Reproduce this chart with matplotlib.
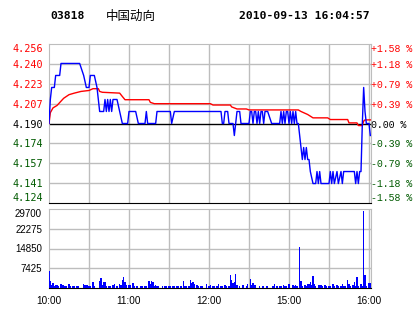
import matplotlib.pyplot as plt

# 03818 intraday, 2010-09-13 (minutes from 10:00, lunch break removed)
prev_close = 4.19

price_t = [0, 1, 2, 4, 5, 8, 9, 23, 26, 28, 30, 31, 34, 36, 38, 41, 42, 43, 44, 45,
           46, 47, 48, 51, 53, 55, 59, 60, 65, 67, 72, 73, 74, 80, 81, 91, 92, 94, 129, 130,
           131, 132, 134, 135, 138, 139, 140, 141, 143, 144, 150, 151, 152, 153, 154, 155, 156, 157, 158, 159,
           160, 161, 162, 164, 167, 173, 174, 175, 176, 177, 178, 179, 180, 181, 182, 183, 184, 185, 186, 187,
           189, 190, 191, 192, 193, 194, 195, 196, 198, 200, 201, 202, 203, 204, 210, 211, 212, 213, 214, 216,
           217, 219, 220, 221, 222, 229, 230, 231, 232, 233, 234, 235, 236, 237, 238, 240, 241]
price_v = [4.19, 4.21, 4.22, 4.22, 4.23, 4.23, 4.24, 4.24, 4.23, 4.22, 4.22, 4.23, 4.23, 4.22, 4.20, 4.20, 4.21, 4.20, 4.21, 4.20,
           4.21, 4.20, 4.21, 4.21, 4.20, 4.19, 4.19, 4.20, 4.20, 4.19, 4.19, 4.20, 4.19, 4.19, 4.20, 4.20, 4.19, 4.20, 4.20, 4.19,
           4.19, 4.20, 4.20, 4.19, 4.19, 4.18, 4.19, 4.20, 4.20, 4.19, 4.19, 4.20, 4.20, 4.19, 4.20, 4.20, 4.19, 4.20, 4.19, 4.20,
           4.20, 4.19, 4.20, 4.20, 4.19, 4.19, 4.20, 4.19, 4.20, 4.19, 4.20, 4.20, 4.19, 4.20, 4.19, 4.20, 4.19, 4.20, 4.19, 4.19,
           4.17, 4.16, 4.17, 4.16, 4.17, 4.16, 4.16, 4.15, 4.14, 4.14, 4.15, 4.14, 4.15, 4.14, 4.14, 4.15, 4.14, 4.15, 4.14, 4.15,
           4.14, 4.15, 4.14, 4.15, 4.15, 4.15, 4.14, 4.15, 4.14, 4.15, 4.15, 4.19, 4.22, 4.20, 4.19, 4.19, 4.18]

avg_t = [0, 1, 3, 6, 11, 15, 19, 24, 30, 33, 37, 38, 40, 53, 55, 57, 75, 76, 79, 121,
         123, 136, 137, 141, 148, 150, 187, 189, 192, 194, 198, 209, 211, 224, 225, 231, 232, 235, 236, 237, 241]
avg_v = [4.190, 4.199, 4.203, 4.205, 4.211, 4.214, 4.2153, 4.2167, 4.2175, 4.219, 4.219, 4.2167, 4.216, 4.2153, 4.2125,
         4.2098, 4.2098, 4.2076, 4.2065, 4.2065, 4.2054, 4.2054, 4.2038, 4.2021, 4.2021, 4.2013, 4.2013, 4.200, 4.1985,
         4.1975, 4.1947, 4.1947, 4.1933, 4.1933, 4.1905, 4.1905, 4.1883, 4.1883, 4.192, 4.193, 4.193]

vol_t = [0, 1, 2, 3, 4, 5, 6, 7, 9, 10, 11, 12, 13, 15, 16, 18, 19, 21, 22, 26,
         27, 28, 29, 30, 31, 33, 34, 38, 39, 40, 41, 42, 43, 45, 46, 48, 49, 51, 53, 54,
         55, 56, 57, 58, 60, 61, 63, 64, 66, 69, 70, 72, 73, 75, 76, 77, 78, 79, 80, 81,
         82, 85, 87, 88, 90, 91, 93, 94, 96, 97, 99, 101, 102, 103, 105, 106, 107, 108, 109, 111,
         112, 114, 115, 118, 120, 121, 123, 124, 126, 127, 129, 130, 132, 133, 135, 136, 137, 138, 139, 140,
         141, 143, 145, 146, 148, 149, 151, 152, 153, 154, 155, 158, 160, 161, 163, 164, 168, 169, 171, 173,
         174, 176, 177, 178, 180, 183, 184, 185, 186, 188, 189, 190, 192, 193, 194, 195, 196, 197, 198, 199,
         200, 202, 203, 204, 205, 207, 208, 210, 211, 213, 214, 216, 217, 219, 220, 221, 222, 224, 225, 226,
         228, 229, 230, 231, 232, 234, 235, 236, 237, 238, 240, 241]
vol_v = [6500, 2750, 1250, 2000, 625, 1000, 1250, 750, 1500, 1000, 1250, 750, 875, 1500, 875, 875, 875, 875, 875, 1500,
         1250, 1000, 1250, 750, 875, 2250, 875, 2750, 3875, 1250, 2250, 2250, 875, 875, 875, 1250, 1500, 750, 1500, 1250,
         3000, 4250, 2250, 1250, 1250, 1250, 1875, 875, 875, 875, 875, 875, 875, 2750, 1500, 2500, 2250, 750, 1250, 875,
         875, 875, 875, 875, 875, 875, 875, 875, 875, 875, 875, 2750, 875, 875, 875, 3125, 1875, 2125, 1500, 1250,
         875, 875, 875, 1500, 875, 1250, 875, 875, 875, 1500, 875, 875, 1250, 875, 875, 5000, 3125, 1750, 2125, 5375,
         1250, 875, 1250, 1250, 875, 1500, 3500, 1250, 2000, 1250, 1250, 875, 875, 875, 875, 875, 875, 1625, 875, 875,
         875, 1250, 875, 875, 1625, 1250, 875, 1250, 875, 15600, 2750, 875, 1250, 875, 1625, 1500, 2375, 1250, 4625, 1500,
         875, 1250, 1250, 1250, 875, 1250, 875, 875, 875, 1625, 875, 1250, 875, 875, 1625, 875, 875, 3125, 1500, 875,
         1250, 2250, 875, 4250, 875, 1500, 875, 29100, 4750, 875, 1750, 1750]

price_labels = ['4.256', '4.240', '4.223', '4.207', '4.190', '4.174', '4.157', '4.141', '4.124']
pct_labels = ['+1.58 %', '+1.18 %', '+0.79 %', '+0.39 %', '0.00 %', '-0.39 %', '-0.79 %', '-1.18 %', '-1.58 %']
time_ticks = [0, 60, 120, 180, 240]
time_labels = ['10:00', '11:00', '12:00', '15:00', '16:00']
vol_ticks = [7425, 14850, 22275, 29700]

RED = '#ff0000'
GREEN = '#005a00'
BLUE = '#0000ff'
GRID = '#bdbdbd'

steps = [4, 3, 2, 1, 0, -1, -2, -3, -4]
price_ticks = [prev_close * (1 + k * 0.00395) for k in steps]
label_cols = [RED if k > 0 else ('black' if k == 0 else GREEN) for k in steps]

fig = plt.figure(figsize=(4.14, 3.14), dpi=100)

# price panel
ax = fig.add_axes([49 / 414, 1 - 203 / 314, 322 / 414, 159 / 314])
ax.set_xlim(0, 241.5)
ax.set_ylim(price_ticks[-1], price_ticks[0])
for x in range(30, 241, 30):
    ax.axvline(x, color=GRID, lw=1, zorder=1)
for y in price_ticks[1:-1]:
    if abs(y - prev_close) > 1e-6:
        ax.axhline(y, color=GRID, lw=1, zorder=1)
ax.axhline(prev_close, color='black', lw=1, zorder=2)
ax.plot(avg_t, avg_v, color=RED, lw=1, zorder=3)
ax.plot(price_t, price_v, color=BLUE, lw=1, zorder=4)

for s in ['left', 'top', 'right']:
    ax.spines[s].set_color(GRID)
ax.spines['bottom'].set_color('black')
ax.set_xticks([])
ax.set_yticks(price_ticks)
ax.set_yticklabels(price_labels, family='DejaVu Sans Mono', fontsize=7.3)
ax.tick_params(axis='y', length=0, pad=4)
for lab, c in zip(ax.get_yticklabels(), label_cols):
    lab.set_color(c)

ax2 = ax.twinx()
ax2.set_ylim(ax.get_ylim())
ax2.set_yticks(price_ticks)
ax2.set_yticklabels(pct_labels, family='Liberation Mono', fontsize=7.1)
ax2.tick_params(axis='y', length=0, pad=0)
for lab, c in zip(ax2.get_yticklabels(), label_cols):
    lab.set_color(c)
for s in ax2.spines.values():
    s.set_visible(False)

# keep the end labels inside the panel, as in the original
for a in (ax, ax2):
    labs = a.get_yticklabels()
    labs[0].set_va('top')
    labs[-1].set_va('bottom')

# volume panel
av = fig.add_axes([49 / 414, 1 - 288 / 314, 322 / 414, 79 / 314])
av.set_xlim(0, 241.5)
av.set_ylim(0, 29700)
for x in range(30, 241, 30):
    av.axvline(x, color=GRID, lw=1, zorder=1)
for y in vol_ticks[:-1]:
    av.axhline(y, color=GRID, lw=1, zorder=1)
av.bar(vol_t, vol_v, width=0.8, color=BLUE, zorder=3)
for s in ['left', 'top', 'right']:
    av.spines[s].set_color(GRID)
av.spines['bottom'].set_color('black')
av.set_yticks(vol_ticks)
av.set_yticklabels([str(v) for v in vol_ticks], family='Liberation Sans', fontsize=7)
av.get_yticklabels()[-1].set_va('top')
av.set_xticks(time_ticks)
av.set_xticklabels(time_labels, family='Liberation Sans', fontsize=7.2)
av.tick_params(length=0)
av.tick_params(axis='y', pad=5)
av.tick_params(axis='x', pad=6)

# header
fig.text(50 / 414, 1 - 16 / 314, '03818', family='DejaVu Sans Mono', fontweight='bold',
         fontsize=8.2, va='center', ha='left')
fig.text(106 / 414, 1 - 16 / 314, '中国动向', family=['Noto Sans CJK SC', 'DejaVu Sans'],
         fontsize=9, va='center', ha='left')
fig.text(370 / 414, 1 - 16 / 314, '2010-09-13 16:04:57', family='DejaVu Sans Mono',
         fontweight='bold', fontsize=8.2, va='center', ha='right')

fig.savefig('out.png', dpi=100)
